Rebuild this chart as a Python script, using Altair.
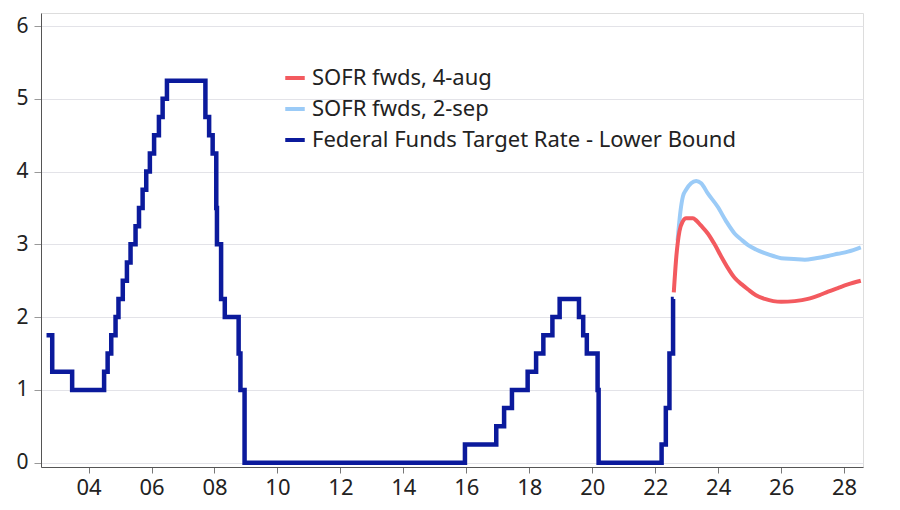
import altair as alt
import pandas as pd

# Federal Funds Target Rate - Lower Bound (change dates and levels)
fed_dates = ["2002-09-01", "2002-11-06", "2003-06-25", "2004-06-30", "2004-08-10", "2004-09-21",
             "2004-11-10", "2004-12-14", "2005-02-02", "2005-03-22", "2005-05-03", "2005-06-30",
             "2005-08-09", "2005-09-20", "2005-11-01", "2005-12-13", "2006-01-31", "2006-03-28",
             "2006-05-10", "2006-06-29", "2007-09-18", "2007-10-31", "2007-12-11", "2008-01-22",
             "2008-01-30", "2008-03-18", "2008-04-30", "2008-10-08", "2008-10-29", "2008-12-16",
             "2015-12-16", "2016-12-14", "2017-03-15", "2017-06-14", "2017-12-13", "2018-03-21",
             "2018-06-13", "2018-09-26", "2018-12-19", "2019-07-31", "2019-09-18", "2019-10-30",
             "2020-03-03", "2020-03-15", "2022-03-16", "2022-05-04", "2022-06-15", "2022-07-27",
             "2022-08-04"]
fed_values = [1.75, 1.25, 1.00, 1.25, 1.50, 1.75, 2.00, 2.25, 2.50, 2.75, 3.00, 3.25, 3.50, 3.75,
              4.00, 4.25, 4.50, 4.75, 5.00, 5.25, 4.75, 4.50, 4.25, 3.50, 3.00, 2.25, 2.00, 1.50,
              1.00, 0.00, 0.25, 0.50, 0.75, 1.00, 1.25, 1.50, 1.75, 2.00, 2.25, 2.00, 1.75, 1.50,
              1.00, 0.00, 0.25, 0.75, 1.50, 2.25, 2.25]

# SOFR forwards, 4-aug (decimal years)
aug_x = [2022.59, 2022.67, 2022.77, 2022.88, 2022.98, 2023.2, 2023.3, 2023.45, 2023.67, 2023.9,
         2024.1, 2024.3, 2024.52, 2024.75, 2024.95, 2025.2, 2025.48, 2025.75, 2026.0, 2026.43,
         2026.85, 2027.2, 2027.49, 2027.8, 2028.12, 2028.53]
aug_y = [2.34, 2.83, 3.18, 3.32, 3.36, 3.36, 3.33, 3.26, 3.15, 2.99, 2.83, 2.68, 2.54, 2.45, 2.38,
         2.30, 2.25, 2.22, 2.21, 2.22, 2.25, 2.30, 2.35, 2.40, 2.45, 2.50]

# SOFR forwards, 2-sep (decimal years)
sep_x = [2022.71, 2022.8, 2022.88, 2022.98, 2023.14, 2023.3, 2023.46, 2023.67, 2023.98, 2024.25,
         2024.52, 2024.75, 2024.95, 2025.2, 2025.48, 2025.75, 2026.0, 2026.4, 2026.75, 2027.1,
         2027.49, 2027.8, 2028.12, 2028.53]
sep_y = [3.05, 3.45, 3.66, 3.75, 3.84, 3.87, 3.84, 3.70, 3.52, 3.32, 3.15, 3.06, 2.99, 2.93, 2.88,
         2.84, 2.81, 2.80, 2.79, 2.81, 2.84, 2.87, 2.90, 2.96]

names = ["SOFR fwds, 4-aug", "SOFR fwds, 2-sep", "Federal Funds Target Rate - Lower Bound"]
colors = ["#f35a5f", "#9bcbf7", "#0b1a9c"]
year_ticks = list(range(2004, 2029, 2))
rate_ticks = [0, 1, 2, 3, 4, 5, 6]


def dec_year(d):
    t = pd.Timestamp(d)
    days = 366 if t.is_leap_year else 365
    return t.year + (t.dayofyear - 1) / days


fed = pd.DataFrame({"x": [dec_year(d) for d in fed_dates], "y": fed_values, "s": names[2]})
aug = pd.DataFrame({"x": aug_x, "y": aug_y, "s": names[0]})
sep = pd.DataFrame({"x": sep_x, "y": sep_y, "s": names[1]})

xscale = alt.Scale(domain=[2002.49, 2028.6], nice=False, zero=False)
yscale = alt.Scale(domain=[-0.06, 6.18], nice=False, zero=False)

xaxis = alt.Axis(values=year_ticks, labelExpr="substring(toString(datum.value), 2)", grid=False,
                 tickSize=6, labelPadding=4, labelFontSize=22, title=None, domainColor="#555",
                 tickColor="#777", labelColor="#222")
yleft = alt.Axis(values=rate_ticks, grid=True, gridColor="#e3e3e8", tickSize=7, labelPadding=6,
                 labelFontSize=21, title=None, domainColor="#555", tickColor="#999",
                 labelColor="#222", orient="left")
yright = alt.Axis(values=rate_ticks, grid=False, tickSize=7, labelPadding=6, labelFontSize=21,
                  title=None, domainColor="#555", tickColor="#999", labelColor="#222",
                  orient="right")

color = alt.Color("s:N", scale=alt.Scale(domain=names, range=colors),
                  legend=alt.Legend(orient="none", legendX=242, legendY=53, title=None,
                                    labelFontSize=22, labelColor="#222", symbolType="stroke",
                                    symbolStrokeWidth=4, symbolSize=380, rowPadding=8,
                                    labelOffset=5, padding=0, labelLimit=0))

fed_line = alt.Chart(fed).mark_line(interpolate="step-after", strokeWidth=4.5,
                                    strokeJoin="miter", strokeCap="butt").encode(
    x=alt.X("x:Q", scale=xscale, axis=xaxis),
    y=alt.Y("y:Q", scale=yscale, axis=yleft),
    color=color,
)

sep_line = alt.Chart(sep).mark_line(interpolate="monotone", strokeWidth=4).encode(
    x=alt.X("x:Q", scale=xscale, axis=xaxis),
    y=alt.Y("y:Q", scale=yscale, axis=yright),
    color=color,
)
aug_line = alt.Chart(aug).mark_line(interpolate="monotone", strokeWidth=4).encode(
    x=alt.X("x:Q", scale=xscale, axis=xaxis),
    y=alt.Y("y:Q", scale=yscale, axis=None),
    color=color,
)

right = alt.layer(sep_line, aug_line)

chart = alt.layer(fed_line, right).resolve_scale(y="independent").properties(
    width=822, height=454,
    autosize=alt.AutoSizeParams(type="none"),
    padding={"left": 33, "top": 5, "right": 28, "bottom": 34},
).configure_view(stroke=None).configure(font="Noto Sans")

chart.save("out.html", embed_options={"renderer": "svg", "actions": False})
